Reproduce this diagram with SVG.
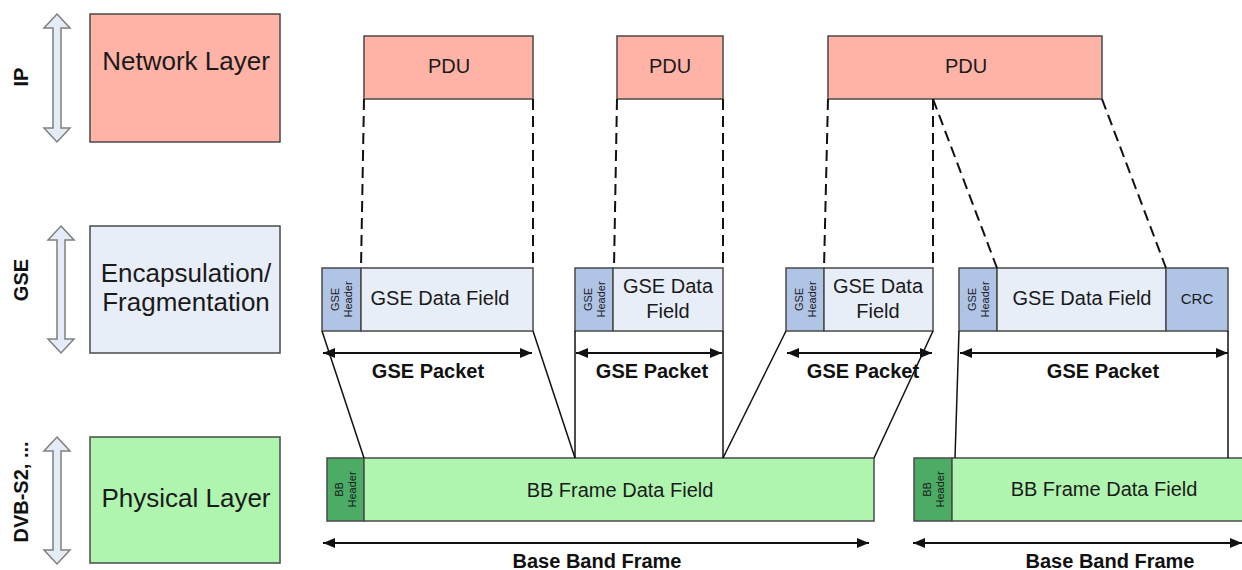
<svg xmlns="http://www.w3.org/2000/svg" width="1242" height="570" viewBox="0 0 1242 570">
<defs>
<style>
text{font-family:"Liberation Sans",Arial,sans-serif;fill:#1a1a1a}
.lbl{font-size:26px;text-anchor:middle}
.f20{font-size:20px;text-anchor:middle}
.b20{font-size:20px;font-weight:bold;text-anchor:middle;fill:#111}
.hdr{font-size:11px;text-anchor:middle}
.box{stroke:#4a4a4a;stroke-width:1.5}
.net{fill:#ffb3a7}
.gse{fill:#e8eef8}
.gh{fill:#b0c4e6}
.phy{fill:#aff5af}
.bbh{fill:#4cac66}
.blk{fill:#e4ecf7;stroke:#7f7f7f;stroke-width:1.5}
.dash{stroke:#111;stroke-width:2;stroke-dasharray:11 6;fill:none}
.sol{stroke:#111;stroke-width:1.5;fill:none}
.dim{stroke:#111;stroke-width:2;fill:none;marker-start:url(#ah);marker-end:url(#ah)}
</style>
<marker id="ah" markerUnits="userSpaceOnUse" markerWidth="12" markerHeight="10" refX="12" refY="5" orient="auto-start-reverse">
<path d="M0,0 L12,5 L0,10 z" fill="#111"/>
</marker>
</defs>
<rect width="1242" height="570" fill="#ffffff"/>

<g id="side-labels">
<text class="b20" transform="translate(28,77) rotate(-90)">IP</text>
<text class="b20" transform="translate(28,280) rotate(-90)">GSE</text>
<text class="b20" transform="translate(28,492) rotate(-90)">DVB-S2, ...</text>
</g>

<g id="layer-arrows">
<path class="blk" d="M57,14 L70,28 L61,28 L61,128 L70,128 L57,142 L44,128 L53,128 L53,28 L44,28 Z"/>
<path class="blk" d="M61,226 L74,240 L65,240 L65,339 L74,339 L61,353 L48,339 L57,339 L57,240 L48,240 Z"/>
<path class="blk" d="M57,437 L70,451 L61,451 L61,550 L70,550 L57,564 L44,550 L53,550 L53,451 L44,451 Z"/>
</g>

<g id="network-layer">
<rect class="box net" x="90" y="14" width="190" height="128"/>
<text class="lbl" x="186" y="70">Network Layer</text>
</g>
<g id="gse-layer">
<rect class="box gse" x="90" y="226" width="190" height="127"/>
<text class="lbl" x="186" y="282">Encapsulation/</text>
<text class="lbl" x="186" y="311">Fragmentation</text>
</g>
<g id="physical-layer">
<rect class="box phy" x="90" y="437" width="190" height="126"/>
<text class="lbl" x="186" y="507">Physical Layer</text>
</g>

<g id="pdu1">
<rect class="box net" x="364" y="36" width="169" height="63"/>
<text class="f20" x="449" y="73">PDU</text>
</g>
<g id="pdu2">
<rect class="box net" x="617" y="36" width="106" height="63"/>
<text class="f20" x="670" y="73">PDU</text>
</g>
<g id="pdu3">
<rect class="box net" x="828" y="36" width="274" height="63"/>
<text class="f20" x="966" y="73">PDU</text>
</g>

<g id="gse-packet1">
<rect class="box gh" x="322" y="268" width="39" height="63"/>
<text class="hdr" transform="translate(341.5,299.5) rotate(-90)"><tspan x="0" y="-2.5">GSE</tspan><tspan x="0" y="10.5">Header</tspan></text>
<rect class="box gse" x="361" y="268" width="172" height="63"/>
<text class="f20" x="440" y="305">GSE Data Field</text>
</g>
<g id="gse-packet2">
<rect class="box gh" x="575" y="268" width="38" height="63"/>
<text class="hdr" transform="translate(594,299.5) rotate(-90)"><tspan x="0" y="-2.5">GSE</tspan><tspan x="0" y="10.5">Header</tspan></text>
<rect class="box gse" x="613" y="268" width="110" height="63"/>
<text class="f20" x="668" y="293">GSE Data</text>
<text class="f20" x="668" y="318">Field</text>
</g>
<g id="gse-packet3">
<rect class="box gh" x="786" y="268" width="38" height="63"/>
<text class="hdr" transform="translate(805,299.5) rotate(-90)"><tspan x="0" y="-2.5">GSE</tspan><tspan x="0" y="10.5">Header</tspan></text>
<rect class="box gse" x="824" y="268" width="109" height="63"/>
<text class="f20" x="878" y="293">GSE Data</text>
<text class="f20" x="878" y="318">Field</text>
</g>
<g id="gse-packet4">
<rect class="box gh" x="959" y="268" width="38" height="63"/>
<text class="hdr" transform="translate(978,299.5) rotate(-90)"><tspan x="0" y="-2.5">GSE</tspan><tspan x="0" y="10.5">Header</tspan></text>
<rect class="box gse" x="997" y="268" width="169" height="63"/>
<text class="f20" x="1082" y="305">GSE Data Field</text>
<rect class="box gh" x="1166" y="268" width="62" height="63"/>
<text x="1197" y="304" style="font-size:15px;text-anchor:middle">CRC</text>
</g>

<g id="bb-frame1">
<rect class="box bbh" x="327" y="458" width="37" height="63"/>
<text class="hdr" transform="translate(345.5,489.5) rotate(-90)"><tspan x="0" y="-2.5">BB</tspan><tspan x="0" y="10.5">Header</tspan></text>
<rect class="box phy" x="364" y="458" width="510" height="63"/>
<text class="f20" x="620" y="497">BB Frame Data Field</text>
</g>
<g id="bb-frame2">
<rect class="box bbh" x="914" y="458" width="38" height="63"/>
<text class="hdr" transform="translate(933,489.5) rotate(-90)"><tspan x="0" y="-2.5">BB</tspan><tspan x="0" y="10.5">Header</tspan></text>
<rect class="box phy" x="952" y="458" width="300" height="63"/>
<text class="f20" x="1104" y="496">BB Frame Data Field</text>
</g>

<g id="connectors">
<line class="dash" x1="364" y1="99" x2="361" y2="268"/>
<line class="dash" x1="533" y1="99" x2="533" y2="268"/>
<line class="dash" x1="617" y1="99" x2="614" y2="268"/>
<line class="dash" x1="723" y1="99" x2="723" y2="268"/>
<line class="dash" x1="828" y1="99" x2="824" y2="268"/>
<line class="dash" x1="933" y1="99" x2="933" y2="268"/>
<line class="dash" x1="933" y1="99" x2="997" y2="268"/>
<line class="dash" x1="1102" y1="99" x2="1166" y2="268"/>

<line class="sol" x1="322" y1="331" x2="364" y2="458"/>
<line class="sol" x1="533" y1="331" x2="575" y2="458"/>
<line class="sol" x1="575" y1="331" x2="575" y2="458"/>
<line class="sol" x1="723" y1="331" x2="723" y2="458"/>
<line class="sol" x1="786" y1="331" x2="723" y2="458"/>
<line class="sol" x1="933" y1="331" x2="874" y2="458"/>
<line class="sol" x1="959" y1="331" x2="955" y2="458"/>
<line class="sol" x1="1228" y1="331" x2="1228" y2="458"/>

<line class="dim" x1="323" y1="353" x2="532" y2="353"/>
<line class="dim" x1="576" y1="353" x2="722" y2="353"/>
<line class="dim" x1="787" y1="353" x2="932" y2="353"/>
<line class="dim" x1="960" y1="353" x2="1228" y2="353"/>
<line class="dim" x1="323" y1="543" x2="869" y2="543"/>
<line class="dim" x1="913" y1="543" x2="1242" y2="543"/>
</g>

<g id="dimension-labels">
<text class="b20" x="428" y="378">GSE Packet</text>
<text class="b20" x="652" y="378">GSE Packet</text>
<text class="b20" x="863" y="378">GSE Packet</text>
<text class="b20" x="1103" y="378">GSE Packet</text>
<text class="b20" x="597" y="568">Base Band Frame</text>
<text class="b20" x="1110" y="568">Base Band Frame</text>
</g>
</svg>
